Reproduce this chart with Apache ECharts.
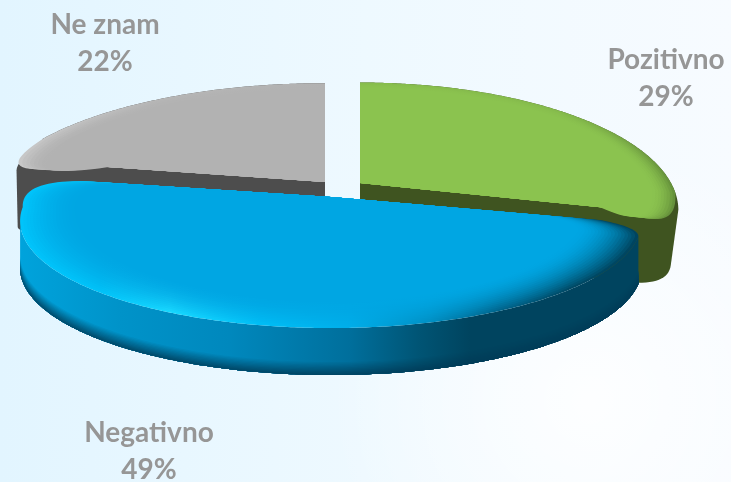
<!DOCTYPE html>
<html><head><meta charset="utf-8">
<style>html,body{margin:0;padding:0;background:#fff}#c{width:731px;height:482px}</style>
<script src="https://cdn.jsdelivr.net/npm/echarts@6/dist/echarts.min.js"></script>
</head><body><div id="c"></div>
<script>
const categories = ['Pozitivno', 'Negativno', 'Ne znam'];
const values = [29, 49, 22];

// Drawing geometry and styles, per slice
const looks = {
  'Pozitivno': { ax:360, ay:183, R:311, S:122, k:0.214, h:72, top:{rE:55,rfE:0.4,cyE:20}, wallTop:{rE:10,rfE:0.5}, wallBot:{rE:50,rfE:0.7},
    face:'#8bc34f', wall:'#3f5420', layers:8, depth:0.07, z:1,
    bevel:[[360,'#86bb4c'],[560,'#84b94b'],[630,'#74a343'],[680,'#64903a']], label:[666,78] },
  'Ne znam': { ax:325, ay:182, R:332, S:120, k:0.214, h:68, top:{rS:70,rfS:0.55,cxS:-33,cyS:20}, wallTop:{rS:70,rfS:0.55,cxS:-37,cyS:36}, wallBot:{rS:35,rfS:0.3,cxS:-3,cyS:6},
    face:'#b2b2b2', wall:'#4d4d4d', layers:7, depth:0.09, z:2,
    bevel:[[10,'#c9c9c9'],[70,'#c2c2c2'],[160,'#b6b6b6'],[330,'#b2b2b2']], label:[105,43.5] },
  'Negativno': { ax:331, ay:197, R:303, S:101.7, k:0.224, h:47, top:{rS:40,rfS:0.4,cxS:3,cyS:5,rE:40,rfE:0.9,cxE:-24,cyE:1},
    face:'#00a6e3', wall:'#00445f', layers:18, depth:0.18, z:3, front:true,
    bevel:[[20,'#00c4fb'],[100,'#00c2f8'],[170,'#18d8ff'],[260,'#00bef6'],[350,'#00aeea'],[430,'#0090c4'],[500,'#00658c'],[570,'#004a66'],[642,'#00445f']],
    wallStops:[[20,'#00a3dc'],[120,'#0093c9'],[230,'#0088bd'],[350,'#006f9c'],[420,'#005474'],[470,'#00445f'],[642,'#00445f']], label:[149,451] }
};

function hex(c){return [1,3,5].map(i=>parseInt(c.substr(i,2),16));}
function mix(a,b,t){const A=hex(a),B=hex(b);return 'rgb('+A.map((v,i)=>Math.round(v+(B[i]-v)*t)).join(',')+')';}
function hGrad(stops,x0,x1,fn){
  return new echarts.graphic.LinearGradient(x0,0,x1,0,stops.map(s=>({offset:(s[0]-x0)/(x1-x0),color:fn?fn(s[1]):s[1]})),true);
}
function rimPoint(g,deg,s){
  const a=deg*Math.PI/180,u=Math.sin(a)*s,v=-Math.cos(a)*s,d=1-g.k*v;
  return [g.ax+g.R*u/d,g.ay+g.S*v/d];
}
function dist(a,b){return Math.hypot(a[0]-b[0],a[1]-b[1]);}
function quad(p,c,q,n){const o=[];for(let i=0;i<=n;i++){const t=i/n,m=1-t;o.push([m*m*p[0]+2*m*t*c[0]+t*t*q[0],m*m*p[1]+2*m*t*c[1]+t*t*q[1]]);}return o;}
function toward(p,q,d){const l=dist(p,q);return [p[0]+(q[0]-p[0])*d/l,p[1]+(q[1]-p[1])*d/l];}
// Rim of a slice from a0 to a1 with optionally rounded corners (without the apex)
function rim(g,a0,a1,s,o){
  let arc=[];
  for(let d=a0;d<a1;d+=0.5)arc.push(rimPoint(g,d,s));
  arc.push(rimPoint(g,a1,s));
  const cS=arc[0],cE=arc[arc.length-1],apex=[g.ax,g.ay];
  let head=[],tail=[];
  if(o.rS){arc=arc.filter(p=>dist(p,cS)>=o.rS*o.rfS);head=quad(toward(cS,apex,o.rS),[cS[0]+(o.cxS||0),cS[1]+(o.cyS||0)],arc[0],20);}
  if(o.rE){arc=arc.filter(p=>dist(p,cE)>=o.rE*o.rfE);tail=quad(arc[arc.length-1],[cE[0]+(o.cxE||0),cE[1]+(o.cyE||0)],toward(cE,apex,o.rE),20);}
  return head.concat(arc,tail);
}
function hull(pts){
  pts=pts.slice().sort((a,b)=>a[0]-b[0]||a[1]-b[1]);
  const cr=(o,a,b)=>(a[0]-o[0])*(b[1]-o[1])-(a[1]-o[1])*(b[0]-o[0]);
  const lo=[],up=[];
  for(const p of pts){while(lo.length>1&&cr(lo[lo.length-2],lo[lo.length-1],p)<=0)lo.pop();lo.push(p);}
  for(const p of pts.slice().reverse()){while(up.length>1&&cr(up[up.length-2],up[up.length-1],p)<=0)up.pop();up.push(p);}
  lo.pop();up.pop();return lo.concat(up);
}
const total=values.reduce((a,b)=>a+b,0);

function renderItem(params,api){
  const i=api.value(0),name=categories[i],g=looks[name];
  let a0=0;for(let j=0;j<i;j++)a0+=values[j]/total*360;
  const a1=a0+values[i]/total*360;
  const kids=[];let zz=g.z*1000;
  const poly=(pts,fill)=>kids.push({type:'polygon',z2:zz++,shape:{points:pts},style:{fill:fill}});
  const apex=[g.ax,g.ay];
  // wall
  if(g.front){
    const full=rim(g,a0,a1,1,g.top);
    let iR=0,iL=0;
    full.forEach((p,n)=>{if(p[0]>full[iR][0])iR=n;if(p[0]<full[iL][0])iL=n;});
    const r=full.slice(iR,iL+1);
    const strip=(y1,y2,fill)=>poly(r.map(p=>[p[0],p[1]+y1]).concat(r.slice().reverse().map(p=>[p[0],p[1]+y2])),fill);
    strip(0,g.h,hGrad(g.wallStops,20,642));
    const n=10;
    for(let t=0;t<n;t++){
      const f=(t+1)/n*0.8;
      strip(g.h-13+13*t/n,g.h,hGrad(g.wallStops,20,642,c=>mix(c,'#003a56',f)));
    }
  } else {
    const t=rim(g,a0,a1,1,g.wallTop).concat([apex]);
    const b=rim(g,a0,a1,1,g.wallBot).concat([apex]).map(p=>[p[0],p[1]+g.h]);
    poly(hull(t.concat(b)),g.wall);
  }
  // top face with layered bevel
  for(let l=0;l<=g.layers;l++){
    const t=l/g.layers,s=1-g.depth*t,e=1-Math.pow(1-t,1.8);
    const r=rim(g,a0,a1,s,g.top);
    const x=g.bevel.map(b=>b[0]);
    poly([apex].concat(r),hGrad(g.bevel,x[0],x[x.length-1],c=>mix(c,g.face,e)));
  }
  // label
  kids.push({type:'text',z2:9000,style:{text:name+'\n'+values[i]+'%',x:g.label[0],y:g.label[1],
    align:'center',verticalAlign:'middle',fill:'#969696',font:'bold 28px Lato',lineHeight:37}});
  return {type:'group',children:kids};
}

const chart=echarts.init(document.getElementById('c'),null,{renderer:'canvas'});
chart.setOption({
  animation:false,
  backgroundColor:new echarts.graphic.LinearGradient(0,0,1,0,[{offset:0,color:'#e2f5ff'},{offset:0.5,color:'#eef9ff'},{offset:1,color:'#f7fbff'}]),
  graphic:[{type:'rect',z:-10,silent:true,shape:{x:0,y:0,width:731,height:482},
    style:{fill:new echarts.graphic.RadialGradient(590,400,260,[{offset:0,color:'rgba(255,255,255,0.85)'},{offset:1,color:'rgba(255,255,255,0)'}],true)}}],
  series:[{type:'custom',coordinateSystem:'none',silent:true,renderItem:renderItem,z:5,
    data:categories.map((c,i)=>({name:c,value:[i,values[i]]}))}]
});
</script></body></html>
